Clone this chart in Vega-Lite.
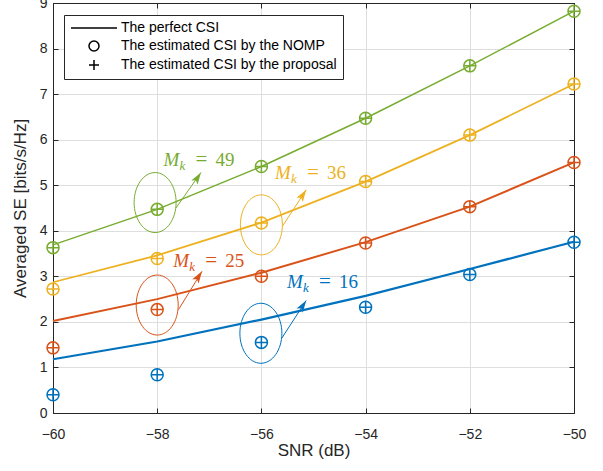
{
  "$schema": "https://vega.github.io/schema/vega-lite/v6.json",
  "autosize": {"type": "none"},
  "padding": {"left": 53, "top": 3, "right": 29, "bottom": 58},
  "width": 521,
  "height": 410,
  "background": "white",
  "config": {
    "view": {"stroke": "#262626", "strokeWidth": 1},
    "font": "Liberation Sans",
    "axis": {
      "domainColor": "#262626", "tickColor": "#262626", "labelColor": "#262626", "titleColor": "#262626",
      "labelFontSize": 14, "titleFontSize": 17, "titleFontWeight": "normal",
      "labelFont": "Liberation Sans", "titleFont": "Liberation Sans",
      "gridColor": "#dedede", "gridOpacity": 1, "tickSize": -5, "labelFlush": false, "labelOverlap": false
    }
  },
  "datasets": {
    "lines": [
      {"snr": -60, "se": 1.18, "Mk": "16"}, {"snr": -58, "se": 1.57, "Mk": "16"}, {"snr": -56, "se": 2.05, "Mk": "16"},
      {"snr": -54, "se": 2.57, "Mk": "16"}, {"snr": -52, "se": 3.16, "Mk": "16"}, {"snr": -50, "se": 3.76, "Mk": "16"},
      {"snr": -60, "se": 2.02, "Mk": "25"}, {"snr": -58, "se": 2.5, "Mk": "25"}, {"snr": -56, "se": 3.08, "Mk": "25"},
      {"snr": -54, "se": 3.75, "Mk": "25"}, {"snr": -52, "se": 4.53, "Mk": "25"}, {"snr": -50, "se": 5.5, "Mk": "25"},
      {"snr": -60, "se": 2.87, "Mk": "36"}, {"snr": -58, "se": 3.46, "Mk": "36"}, {"snr": -56, "se": 4.18, "Mk": "36"},
      {"snr": -54, "se": 5.08, "Mk": "36"}, {"snr": -52, "se": 6.1, "Mk": "36"}, {"snr": -50, "se": 7.22, "Mk": "36"},
      {"snr": -60, "se": 3.69, "Mk": "49"}, {"snr": -58, "se": 4.47, "Mk": "49"}, {"snr": -56, "se": 5.41, "Mk": "49"},
      {"snr": -54, "se": 6.47, "Mk": "49"}, {"snr": -52, "se": 7.62, "Mk": "49"}, {"snr": -50, "se": 8.82, "Mk": "49"}
    ],
    "markers": [
      {"snr": -60, "se": 0.40, "Mk": "16", "method": "The estimated CSI by the NOMP"},
      {"snr": -58, "se": 0.84, "Mk": "16", "method": "The estimated CSI by the NOMP"},
      {"snr": -56, "se": 1.55, "Mk": "16", "method": "The estimated CSI by the NOMP"},
      {"snr": -54, "se": 2.32, "Mk": "16", "method": "The estimated CSI by the NOMP"},
      {"snr": -52, "se": 3.04, "Mk": "16", "method": "The estimated CSI by the NOMP"},
      {"snr": -50, "se": 3.75, "Mk": "16", "method": "The estimated CSI by the NOMP"},
      {"snr": -60, "se": 1.43, "Mk": "25", "method": "The estimated CSI by the NOMP"},
      {"snr": -58, "se": 2.27, "Mk": "25", "method": "The estimated CSI by the NOMP"},
      {"snr": -56, "se": 3.0, "Mk": "25", "method": "The estimated CSI by the NOMP"},
      {"snr": -54, "se": 3.73, "Mk": "25", "method": "The estimated CSI by the NOMP"},
      {"snr": -52, "se": 4.53, "Mk": "25", "method": "The estimated CSI by the NOMP"},
      {"snr": -50, "se": 5.5, "Mk": "25", "method": "The estimated CSI by the NOMP"},
      {"snr": -60, "se": 2.72, "Mk": "36", "method": "The estimated CSI by the NOMP"},
      {"snr": -58, "se": 3.39, "Mk": "36", "method": "The estimated CSI by the NOMP"},
      {"snr": -56, "se": 4.17, "Mk": "36", "method": "The estimated CSI by the NOMP"},
      {"snr": -54, "se": 5.08, "Mk": "36", "method": "The estimated CSI by the NOMP"},
      {"snr": -52, "se": 6.1, "Mk": "36", "method": "The estimated CSI by the NOMP"},
      {"snr": -50, "se": 7.22, "Mk": "36", "method": "The estimated CSI by the NOMP"},
      {"snr": -60, "se": 3.63, "Mk": "49", "method": "The estimated CSI by the NOMP"},
      {"snr": -58, "se": 4.47, "Mk": "49", "method": "The estimated CSI by the NOMP"},
      {"snr": -56, "se": 5.41, "Mk": "49", "method": "The estimated CSI by the NOMP"},
      {"snr": -54, "se": 6.47, "Mk": "49", "method": "The estimated CSI by the NOMP"},
      {"snr": -52, "se": 7.62, "Mk": "49", "method": "The estimated CSI by the NOMP"},
      {"snr": -50, "se": 8.82, "Mk": "49", "method": "The estimated CSI by the NOMP"},
      {"snr": -60, "se": 0.40, "Mk": "16", "method": "The estimated CSI by the proposal"},
      {"snr": -58, "se": 0.84, "Mk": "16", "method": "The estimated CSI by the proposal"},
      {"snr": -56, "se": 1.55, "Mk": "16", "method": "The estimated CSI by the proposal"},
      {"snr": -54, "se": 2.32, "Mk": "16", "method": "The estimated CSI by the proposal"},
      {"snr": -52, "se": 3.04, "Mk": "16", "method": "The estimated CSI by the proposal"},
      {"snr": -50, "se": 3.75, "Mk": "16", "method": "The estimated CSI by the proposal"},
      {"snr": -60, "se": 1.43, "Mk": "25", "method": "The estimated CSI by the proposal"},
      {"snr": -58, "se": 2.27, "Mk": "25", "method": "The estimated CSI by the proposal"},
      {"snr": -56, "se": 3.0, "Mk": "25", "method": "The estimated CSI by the proposal"},
      {"snr": -54, "se": 3.73, "Mk": "25", "method": "The estimated CSI by the proposal"},
      {"snr": -52, "se": 4.53, "Mk": "25", "method": "The estimated CSI by the proposal"},
      {"snr": -50, "se": 5.5, "Mk": "25", "method": "The estimated CSI by the proposal"},
      {"snr": -60, "se": 2.72, "Mk": "36", "method": "The estimated CSI by the proposal"},
      {"snr": -58, "se": 3.39, "Mk": "36", "method": "The estimated CSI by the proposal"},
      {"snr": -56, "se": 4.17, "Mk": "36", "method": "The estimated CSI by the proposal"},
      {"snr": -54, "se": 5.08, "Mk": "36", "method": "The estimated CSI by the proposal"},
      {"snr": -52, "se": 6.1, "Mk": "36", "method": "The estimated CSI by the proposal"},
      {"snr": -50, "se": 7.22, "Mk": "36", "method": "The estimated CSI by the proposal"},
      {"snr": -60, "se": 3.63, "Mk": "49", "method": "The estimated CSI by the proposal"},
      {"snr": -58, "se": 4.47, "Mk": "49", "method": "The estimated CSI by the proposal"},
      {"snr": -56, "se": 5.41, "Mk": "49", "method": "The estimated CSI by the proposal"},
      {"snr": -54, "se": 6.47, "Mk": "49", "method": "The estimated CSI by the proposal"},
      {"snr": -52, "se": 7.62, "Mk": "49", "method": "The estimated CSI by the proposal"},
      {"snr": -50, "se": 8.82, "Mk": "49", "method": "The estimated CSI by the proposal"}
    ],
    "ellipses": [
      {"snr": -58.04, "se": 4.62, "Mk": "49"},
      {"snr": -56.0, "se": 4.13, "Mk": "36"},
      {"snr": -58.0, "se": 2.37, "Mk": "25"},
      {"snr": -56.01, "se": 1.75, "Mk": "16"}
    ],
    "arrows": [
      {"snr": -57.64, "se": 4.50, "snr2": -57.16, "se2": 5.28, "Mk": "49"},
      {"snr": -55.59, "se": 4.11, "snr2": -55.14, "se2": 4.90, "Mk": "36"},
      {"snr": -57.59, "se": 2.27, "snr2": -57.14, "se2": 3.11, "Mk": "25"},
      {"snr": -55.61, "se": 1.64, "snr2": -55.14, "se2": 2.47, "Mk": "16"}
    ],
    "labels": [
      {"snr": -57.88, "se": 5.42, "Mk": "49", "num": "49"},
      {"snr": -55.74, "se": 5.13, "Mk": "36", "num": "36"},
      {"snr": -57.69, "se": 3.20, "Mk": "25", "num": "25"},
      {"snr": -55.51, "se": 2.74, "Mk": "16", "num": "16"}
    ]
  },
  "layer": [
    {
      "layer": [
        {
          "data": {"name": "lines"},
          "mark": {"type": "line"},
          "encoding": {
            "x": {"field": "snr", "type": "quantitative", "scale": {"domain": [-60, -50], "nice": false, "zero": false},
              "axis": {"values": [-60, -58, -56, -54, -52, -50], "title": "SNR (dB)", "grid": true, "labelPadding": 19, "titlePadding": 1}},
            "y": {"field": "se", "type": "quantitative", "scale": {"domain": [0, 9], "nice": false, "zero": false},
              "axis": {"values": [0, 1, 2, 3, 4, 5, 6, 7, 8, 9], "title": "Averaged SE [bits/s/Hz]", "grid": true, "labelPadding": 11, "titlePadding": 10}},
            "color": {"field": "Mk", "type": "nominal", "scale": {"domain": ["16", "25", "36", "49"], "range": ["#0072BD", "#D95319", "#EDB120", "#77AC30"]}, "legend": null},
            "strokeWidth": {"field": "Mk", "type": "nominal", "scale": {"domain": ["16", "25", "36", "49"], "range": [2.2, 1.5, 1.5, 1.5]}, "legend": null},
            "detail": {"field": "Mk"}
          }
        },
        {
          "data": {"name": "markers"},
          "mark": {"type": "point", "filled": false, "size": 144, "strokeWidth": 1.5, "opacity": 1},
          "encoding": {
            "x": {"field": "snr", "type": "quantitative"},
            "y": {"field": "se", "type": "quantitative"},
            "color": {"field": "Mk", "type": "nominal", "legend": null},
            "shape": {"field": "method", "type": "nominal",
              "scale": {"domain": ["The perfect CSI", "The estimated CSI by the NOMP", "The estimated CSI by the proposal"],
                "range": ["M -4.6 0 L 4.6 0", "circle", "M -1 0 L 1 0 M 0 -1 L 0 1"]},
              "legend": {"title": null, "orient": "none", "legendX": 11, "legendY": 12, "fillColor": "white", "strokeColor": "#262626",
                "padding": 6, "labelFontSize": 14, "labelFont": "Liberation Sans", "labelColor": "#000000", "symbolSize": 100,
                "symbolStrokeColor": "#000000", "symbolFillColor": "transparent", "symbolStrokeWidth": 1.5,
                "symbolOffset": 17, "labelOffset": 20, "rowPadding": 3, "labelLimit": 400}}
          }
        },
        {
          "data": {"name": "ellipses"},
          "mark": {"type": "point", "filled": false, "size": 3600, "strokeWidth": 1, "opacity": 1,
            "shape": "M -0.7 0 A 0.7 1 0 1 0 0.7 0 A 0.7 1 0 1 0 -0.7 0 Z"},
          "encoding": {
            "x": {"field": "snr", "type": "quantitative"},
            "y": {"field": "se", "type": "quantitative"},
            "color": {"field": "Mk", "type": "nominal", "legend": null}
          }
        },
        {
          "data": {"name": "arrows"},
          "mark": {"type": "rule", "strokeWidth": 1},
          "encoding": {
            "x": {"field": "snr", "type": "quantitative"},
            "y": {"field": "se", "type": "quantitative"},
            "x2": {"field": "snr2"},
            "y2": {"field": "se2"},
            "color": {"field": "Mk", "type": "nominal", "legend": null}
          }
        },
        {
          "data": {"name": "arrows"},
          "mark": {"type": "point", "filled": true, "size": 225, "angle": 33, "opacity": 1,
            "shape": "M 0 0 L 0.5 1.6 L 0 1.25 L -0.5 1.6 Z"},
          "encoding": {
            "x": {"field": "snr2", "type": "quantitative"},
            "y": {"field": "se2", "type": "quantitative"},
            "color": {"field": "Mk", "type": "nominal", "legend": null}
          }
        },
        {
          "data": {"name": "labels"},
          "mark": {"type": "text", "text": "M", "font": "Liberation Serif", "fontStyle": "italic", "fontSize": 19, "align": "left", "baseline": "alphabetic"},
          "encoding": {
            "x": {"field": "snr", "type": "quantitative"},
            "y": {"field": "se", "type": "quantitative"},
            "color": {"field": "Mk", "type": "nominal", "legend": null}
          }
        },
        {
          "data": {"name": "labels"},
          "mark": {"type": "text", "text": "k", "font": "Liberation Serif", "fontStyle": "italic", "fontSize": 13, "align": "left", "baseline": "alphabetic", "dx": 16, "dy": 4},
          "encoding": {
            "x": {"field": "snr", "type": "quantitative"},
            "y": {"field": "se", "type": "quantitative"},
            "color": {"field": "Mk", "type": "nominal", "legend": null}
          }
        },
        {
          "data": {"name": "labels"},
          "mark": {"type": "text", "text": "=", "font": "Liberation Serif", "fontSize": 21, "align": "left", "baseline": "alphabetic", "dx": 32},
          "encoding": {
            "x": {"field": "snr", "type": "quantitative"},
            "y": {"field": "se", "type": "quantitative"},
            "color": {"field": "Mk", "type": "nominal", "legend": null}
          }
        },
        {
          "data": {"name": "labels"},
          "mark": {"type": "text", "font": "Liberation Serif", "fontSize": 19, "align": "left", "baseline": "alphabetic", "dx": 52},
          "encoding": {
            "x": {"field": "snr", "type": "quantitative"},
            "y": {"field": "se", "type": "quantitative"},
            "text": {"field": "num"},
            "color": {"field": "Mk", "type": "nominal", "legend": null}
          }
        }
      ]
    },
    {
      "data": {"name": "lines"},
      "mark": {"type": "point", "opacity": 0},
      "encoding": {
        "x": {"field": "snr", "type": "quantitative", "scale": {"domain": [-60, -50], "nice": false, "zero": false},
          "axis": {"orient": "top", "values": [-60, -58, -56, -54, -52, -50], "labels": false, "title": null, "grid": false}},
        "y": {"field": "se", "type": "quantitative", "scale": {"domain": [0, 9], "nice": false, "zero": false},
          "axis": {"orient": "right", "values": [0, 1, 2, 3, 4, 5, 6, 7, 8, 9], "labels": false, "title": null, "grid": false}}
      }
    }
  ],
  "resolve": {"axis": {"x": "independent", "y": "independent"}}
}
